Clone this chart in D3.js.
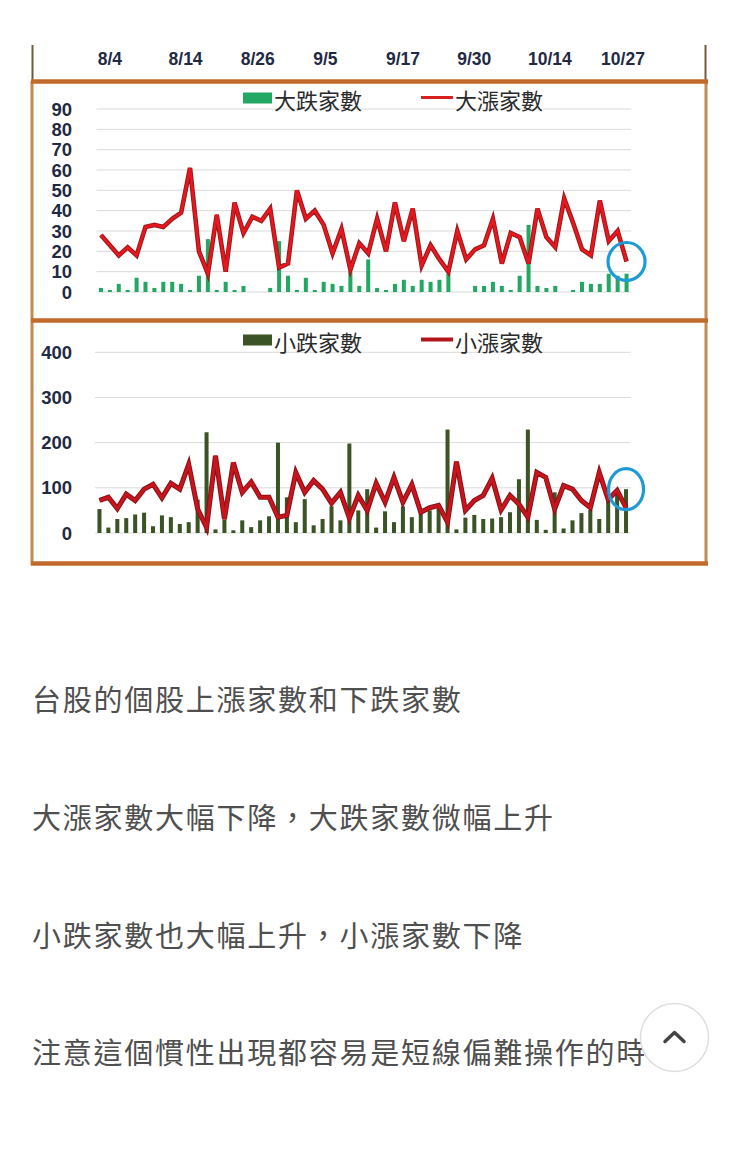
<!DOCTYPE html>
<html>
<head>
<meta charset="utf-8">
<script src="https://cdn.jsdelivr.net/npm/d3@7/dist/d3.min.js"></script>
<style>
  html, body { margin: 0; padding: 0; background: #fff; }
  svg { display: block; }
</style>
</head>
<body>
<svg id="chart" width="740" height="1155"></svg>
<script>
// ---------------- DATA ----------------
const categories = d3.range(60).map(i => "D" + (i + 1));

// top panel
const bigDown = [2,1,4,1,7,5,2,5,5,4,1,8,26,1,5,1,3,0,0,2,25,8,1,7,1,5,4,3,10,3,16,2,1,4,6,3,6,5,6,9,0,0,3,3,5,3,1,8,33,3,2,3,0,1,5,4,4,9,8,9];
const bigUp   = [28,23,18,22,18,32,33,32,36,39,61,20,9,38,10,44,29,37,35,41,12,14,50,36,40,33,19,31,11,24,19,36,20,44,25,41,13,23,16,10,30,16,21,23,36,14,29,27,14,41,27,22,46,34,21,18,45,25,30,15];
const topTicks = [0,10,20,30,40,50,60,70,80,90];

// bottom panel
const smallDown = [53,12,31,33,41,45,15,39,35,20,24,74,223,8,30,6,28,13,28,37,200,79,24,75,17,31,59,28,198,50,97,12,48,24,59,35,42,50,64,229,8,34,40,31,32,35,46,119,229,29,7,90,10,28,44,51,31,75,86,97];
const smallUp   = [72,79,54,86,72,97,108,78,110,97,152,53,12,171,31,156,90,113,79,79,35,39,134,90,116,97,66,90,33,83,50,110,68,123,68,107,46,56,61,24,158,50,72,83,121,51,83,64,35,134,123,53,105,97,72,56,134,74,94,56];
const bottomTicks = [0,100,200,300,400];

// date strip
const dateLabels = ["8/4","8/14","8/26","9/5","9/17","9/30","10/14","10/27"];
const datePos    = [1.0, 9.5, 17.6, 25.2, 33.9, 41.9, 50.4, 58.6];

// legends
const topLegend = ["大跌家數", "大漲家數"];
const bottomLegend = ["小跌家數", "小漲家數"];

// article text
const paragraphs = [
  "台股的個股上漲家數和下跌家數",
  "大漲家數大幅下降，大跌家數微幅上升",
  "小跌家數也大幅上升，小漲家數下降",
  "注意這個慣性出現都容易是短線偏難操作的時"
];

// ---------------- DRAW ----------------
const svg = d3.select("#chart");
const navy = "#1f2a44";
const frameOrange = "#c26a2b";
const frameSide = "#c48a50";

// frame
const frame = svg.append("g");
frame.append("line").attr("x1", 32.5).attr("x2", 32.5).attr("y1", 45).attr("y2", 81)
  .attr("stroke", "#6e5a3c").attr("stroke-width", 2);
frame.append("line").attr("x1", 705.5).attr("x2", 705.5).attr("y1", 45).attr("y2", 81)
  .attr("stroke", "#6e5a3c").attr("stroke-width", 2);
frame.append("line").attr("x1", 32).attr("x2", 32).attr("y1", 81).attr("y2", 565)
  .attr("stroke", frameSide).attr("stroke-width", 3);
frame.append("line").attr("x1", 706).attr("x2", 706).attr("y1", 81).attr("y2", 565)
  .attr("stroke", frameSide).attr("stroke-width", 3);
[81.5, 320.5, 563.5].forEach(y => {
  frame.append("line").attr("x1", 31).attr("x2", 708).attr("y1", y).attr("y2", y)
    .attr("stroke", frameOrange).attr("stroke-width", 4.5);
});

// scales
const xTop = d3.scaleBand().domain(categories).range([96.5, 631]).paddingInner(0.55).paddingOuter(0.275);
const xBot = d3.scaleBand().domain(categories).range([95, 630.5]).paddingInner(0.55).paddingOuter(0.275);
const yTop = d3.scaleLinear().domain([0, 90]).range([292, 109]);
const yBot = d3.scaleLinear().domain([0, 400]).range([533, 352.3]);
const cTop = d => xTop(d) + xTop.bandwidth() / 2;

// date strip
const xDate = d3.scaleLinear().domain([0, 59]).range([cTop(categories[0]), cTop(categories[59])]);
svg.append("g").selectAll("text").data(dateLabels).join("text")
  .attr("x", (d, i) => xDate(datePos[i]))
  .attr("y", 59)
  .attr("text-anchor", "middle")
  .attr("dominant-baseline", "central")
  .attr("font-family", "'Liberation Sans', Arial, sans-serif")
  .attr("font-weight", "bold")
  .attr("font-size", 17.5)
  .attr("fill", navy)
  .text(d => d);

function panel(opts) {
  const { x, y, ticks, bars, line, barColor, lineUnder, lineOver, underW, overW,
          legend, legendY, legendLineColor, legendLineW, circle } = opts;
  const g = svg.append("g");
  const [x0, x1] = x.range();
  g.append("g").selectAll("line").data(ticks).join("line")
    .attr("x1", x0).attr("x2", x1)
    .attr("y1", d => y(d)).attr("y2", d => y(d))
    .attr("stroke", "#dadada").attr("stroke-width", 1);
  g.append("g").selectAll("text").data(ticks).join("text")
    .attr("x", 72).attr("y", d => y(d))
    .attr("text-anchor", "end").attr("dominant-baseline", "central")
    .attr("font-family", "'Liberation Sans', Arial, sans-serif")
    .attr("font-weight", "bold").attr("font-size", 18.5)
    .attr("fill", navy)
    .text(d => d);
  g.append("g").selectAll("rect").data(categories).join("rect")
    .attr("x", d => x(d))
    .attr("width", x.bandwidth())
    .attr("y", (d, i) => y(bars[i]))
    .attr("height", (d, i) => y(0) - y(bars[i]))
    .attr("fill", barColor);
  const gen = d3.line().x((d, i) => x(categories[i]) + x.bandwidth() / 2).y(d => y(d));
  g.append("path").attr("d", gen(line)).attr("fill", "none")
    .attr("stroke", lineUnder).attr("stroke-width", underW).attr("stroke-linejoin", "miter");
  g.append("path").attr("d", gen(line)).attr("fill", "none")
    .attr("stroke", lineOver).attr("stroke-width", overW).attr("stroke-linejoin", "miter");
  const lg = g.append("g");
  lg.append("rect").attr("x", 243).attr("y", legendY - 6).attr("width", 29).attr("height", 11)
    .attr("fill", barColor);
  lg.append("text").attr("x", 274).attr("y", legendY)
    .attr("dominant-baseline", "central")
    .attr("font-family", "'Noto Sans CJK TC', sans-serif")
    .attr("font-size", 22).attr("fill", "#2b2b2b")
    .text(legend[0]);
  lg.append("line").attr("x1", 421).attr("x2", 453).attr("y1", legendY - 1).attr("y2", legendY - 1)
    .attr("stroke", legendLineColor).attr("stroke-width", legendLineW);
  lg.append("text").attr("x", 455).attr("y", legendY)
    .attr("dominant-baseline", "central")
    .attr("font-family", "'Noto Sans CJK TC', sans-serif")
    .attr("font-size", 22).attr("fill", "#2b2b2b")
    .text(legend[1]);
  const last = categories[categories.length - 1];
  g.append("ellipse")
    .attr("cx", x(last) + x.bandwidth() / 2)
    .attr("cy", y(circle.v))
    .attr("rx", circle.rx).attr("ry", circle.ry)
    .attr("fill", "none").attr("stroke", "#1e9bd7").attr("stroke-width", 3.2);
}

panel({
  x: xTop, y: yTop, ticks: topTicks, bars: bigDown, line: bigUp,
  barColor: "#22a862", lineUnder: "#9a1a1a", lineOver: "#e8161e", underW: 4.6, overW: 2.6,
  legend: topLegend, legendY: 98.5, legendLineColor: "#d8201f", legendLineW: 3,
  circle: { v: bigUp[59], rx: 18.5, ry: 19 }
});

panel({
  x: xBot, y: yBot, ticks: bottomTicks, bars: smallDown, line: smallUp,
  barColor: "#3a5425", lineUnder: "#8a1116", lineOver: "#c8151d", underW: 5, overW: 3,
  legend: bottomLegend, legendY: 340.5, legendLineColor: "#b2161c", legendLineW: 4,
  circle: { v: smallDown[59], rx: 17.5, ry: 20.5 }
});

// article text
svg.append("g").selectAll("text").data(paragraphs).join("text")
  .attr("x", 32)
  .attr("y", (d, i) => 698 + i * 117.8)
  .attr("dominant-baseline", "central")
  .attr("font-family", "'Noto Sans CJK TC', sans-serif")
  .attr("font-size", 29)
  .attr("letter-spacing", 1.75)
  .attr("fill", "#4f4f4f")
  .text(d => d);

// scroll-to-top button
const btn = svg.append("g");
btn.append("circle").attr("cx", 674.5).attr("cy", 1037.5).attr("r", 34)
  .attr("fill", "#fff").attr("stroke", "#dedede").attr("stroke-width", 1.5);
btn.append("path").attr("d", "M665,1041.5 L674.5,1032.5 L684,1041.5")
  .attr("fill", "none").attr("stroke", "#444").attr("stroke-width", 3.5)
  .attr("stroke-linecap", "round").attr("stroke-linejoin", "round");
</script>
</body>
</html>
